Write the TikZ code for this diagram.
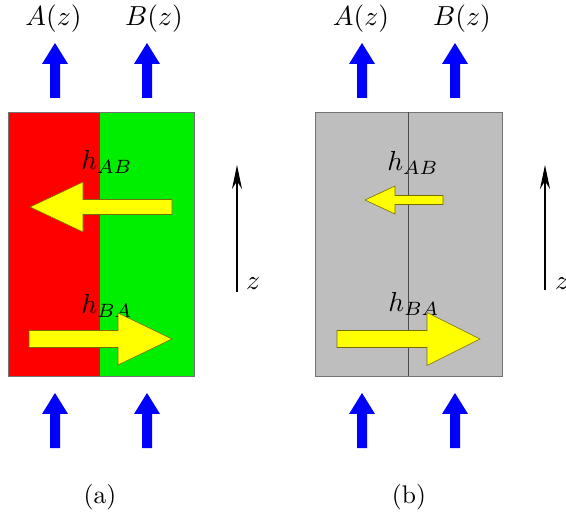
\documentclass[tikz,border=0pt]{standalone}
\usetikzlibrary{arrows.meta}
\definecolor{gred}{RGB}{255,0,0}
\definecolor{ggreen}{RGB}{0,238,0}
\definecolor{ggray}{RGB}{190,190,190}
\definecolor{yfillc}{RGB}{255,255,0}
\definecolor{ydrawc}{RGB}{120,110,0}
\newcommand\bluearr[3]{\fill[blue] (#1,#2) -- (#1+13,#2+21) -- (#1+5,#2+21) -- (#1+5,#3) -- (#1-5,#3) -- (#1-5,#2+21) -- (#1-13,#2+21) -- cycle;}
\newcommand\yarr[6]{\filldraw[fill=yfillc, draw=ydrawc, line width=0.6pt, line join=miter] (#1,#3-#6) -- (#4,#3-#6) -- (#4,#3-#5) -- (#2,#3) -- (#4,#3+#5) -- (#4,#3+#6) -- (#1,#3+#6) -- cycle;}
\begin{document}
\begin{tikzpicture}[x=1pt,y=-1pt,
  lbl/.style={font=\normalsize, scale=2.75, inner sep=0pt},
  captxt/.style={font=\normalsize, scale=2.55, inner sep=0pt},
  zaxis/.style={line width=1.6pt, -{Stealth[length=24pt,width=10pt]}}]
\useasboundingbox (0,0) rectangle (566,516);
% panel (a)
\fill[gred] (8,112) rectangle (100,376);
\fill[ggreen] (100,112) rectangle (194,376);
\draw[black!55, line width=0.6pt] (8,112) rectangle (194,376);
\node[lbl] (hab) at (107,162) {$h_{AB}$};
\node[lbl] (hba) at (107,306) {$h_{BA}$};
\yarr{172}{30}{207}{83}{25}{7.5}
\yarr{29}{172}{339}{118}{26}{8.5}
\bluearr{55}{43}{98}
\bluearr{147}{43}{98}
\bluearr{55}{393}{448}
\bluearr{147}{393}{448}
\node[lbl] (Aa) at (53.5,19) {$A(z)$};
\node[lbl] (Ba) at (154,19) {$B(z)$};
\coordinate (za0) at (237,292);
\coordinate (za1) at (237,165);
\draw[zaxis] (za0) -- (za1);
\node[lbl] (zla) at (253,284) {$z$};
\node[captxt] (capa) at (100,497) {(a)};
% panel (b)
\filldraw[fill=ggray, draw=black!55, line width=0.8pt] (315,112) rectangle (502,376);
\draw[black!70, line width=0.8pt] (408,112) -- (408,376);
\node[lbl] (hab2) at (413,163) {$h_{AB}$};
\node[lbl] (hba2) at (414,304) {$h_{BA}$};
\yarr{443}{365}{200}{395}{14}{4.5}
\yarr{337}{480}{339}{427}{26.5}{8.5}
\bluearr{362}{43}{98}
\bluearr{455}{43}{98}
\bluearr{362}{393}{448}
\bluearr{455}{393}{448}
\node[lbl] (Ab) at (361,19) {$A(z)$};
\node[lbl] (Bb) at (462,19) {$B(z)$};
\coordinate (zb0) at (545,290);
\coordinate (zb1) at (545,165);
\draw[zaxis] (zb0) -- (zb1);
\node[lbl] (zlb) at (562,284) {$z$};
\node[captxt] (capb) at (409,497) {(b)};
\end{tikzpicture}
\end{document}
